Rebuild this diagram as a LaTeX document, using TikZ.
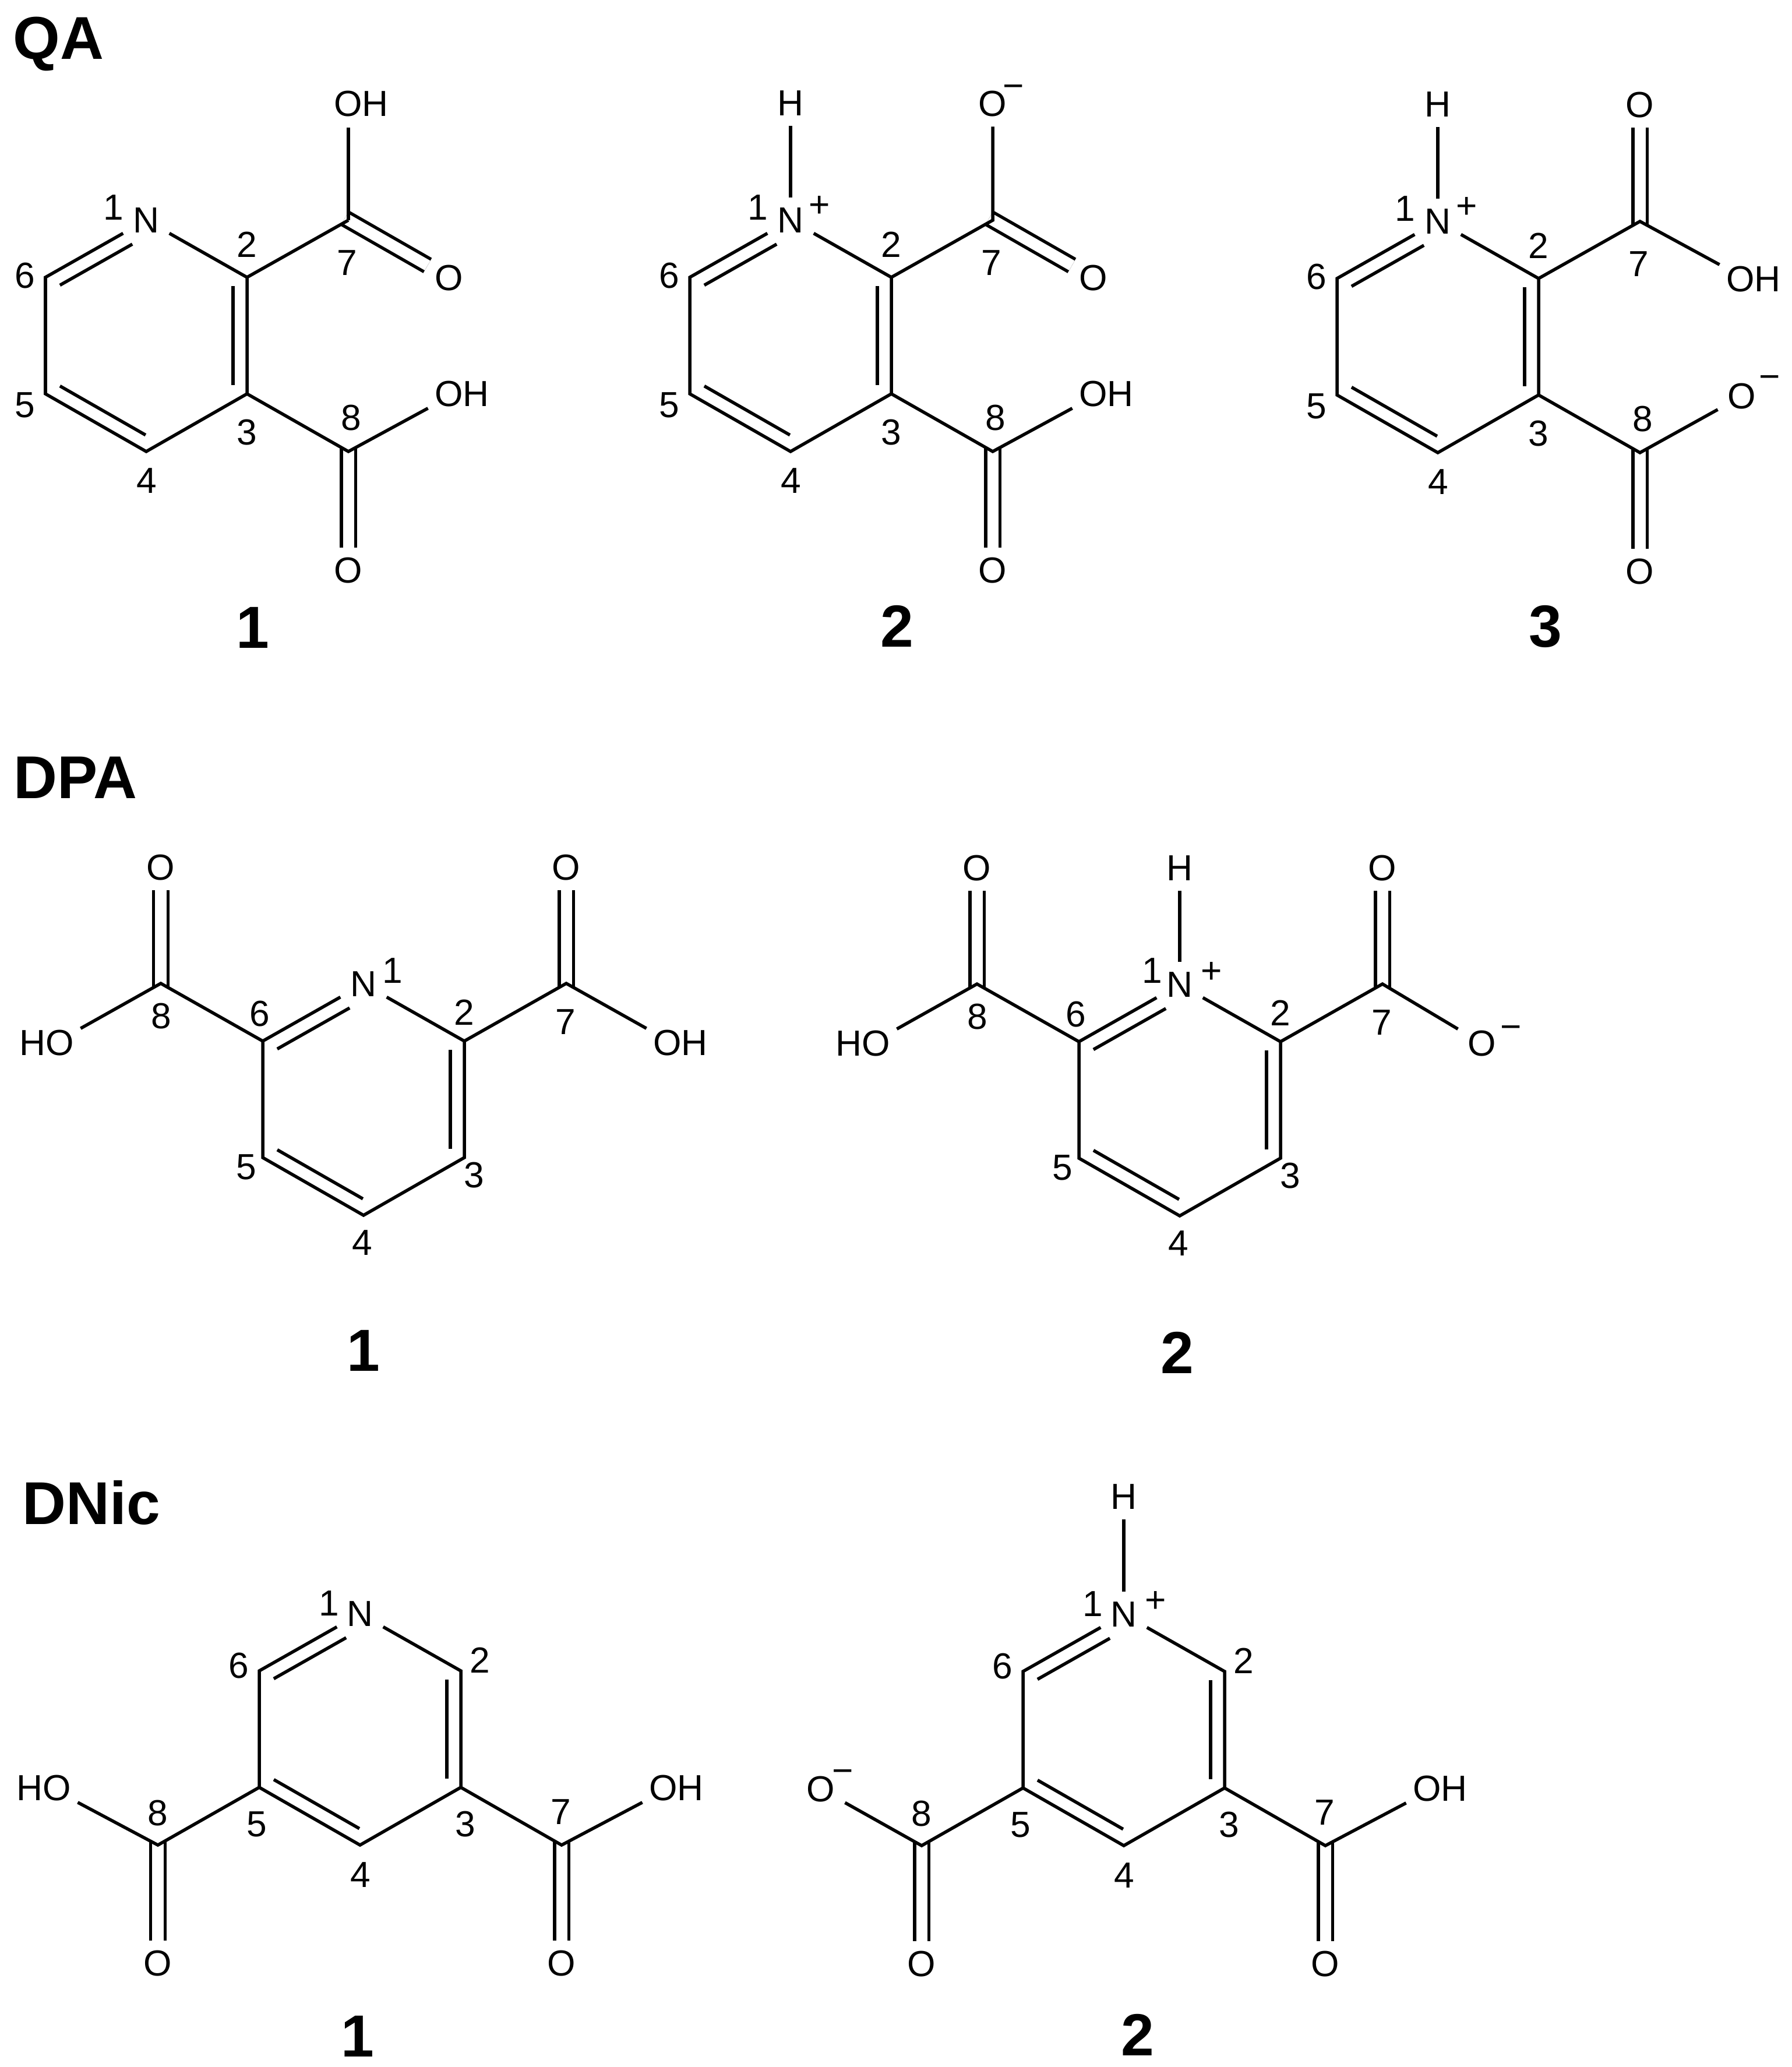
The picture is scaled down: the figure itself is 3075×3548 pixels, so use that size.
\documentclass[tikz,border=0pt]{standalone}
\usepackage{fontspec}
\setmainfont{Liberation Sans}
\usetikzlibrary{calc}
\tikzset{
    every path/.style={line width=.055cm},
    atom/.style={inner sep=.145cm,font=\fontsize{17.7}{20}\selectfont},
    oh/.style={inner xsep=.09cm,inner ysep=0pt,font=\fontsize{17.7}{20}\selectfont},
    num/.style={inner sep=0pt,font=\fontsize{17.7}{20}\selectfont},
    pls/.style={inner sep=0pt,yshift=-.04cm,font=\fontsize{17.7}{20}\selectfont},
    mns/.style={inner sep=0pt,yshift=-.19cm,font=\fontsize{17.7}{20}\selectfont},
    title/.style={inner sep=0pt,anchor=base west,font=\fontsize{29.5}{32}\selectfont\bfseries},
    tag/.style={inner sep=0pt,font=\fontsize{29}{32}\selectfont\bfseries},
    dbl/.style={double,double distance=.19cm,shorten <=-.07cm},
    dblo/.style={dbl,shorten >=-.05cm},
}
% second stroke of a ring bond, on the inner side
\newcommand{\ringdbl}[3][.15cm]{
    \draw[shorten <=.15cm,shorten >=#1] ($(#2)!.24cm!-90:(#3)$) -- ($(#3)!.24cm!90:(#2)$);
}
% pyridine ring round the origin of the scope
\newcommand{\pyring}{
    \coordinate (c2) at (173,-100);
    \coordinate (c3) at (173,100);
    \coordinate (c4) at (0,199);
    \coordinate (c5) at (-173,100);
    \coordinate (c6) at (-173,-100);
    \node[atom] (n1) at (0,-198) {N};
    \draw (n1) -- (c2) -- (c3) -- (c4) -- (c5) -- (c6) -- (n1);
    \ringdbl{c2}{c3}
    \ringdbl{c4}{c5}
    \ringdbl[.41cm]{c6}{n1}
}
\newcommand{\qalabels}{
    \foreach \x/\y/\n in {-56/-220/1,173/-156/2,173/166/3,1/249/4,-208/119/5,-208/-103/6,345/-125/7,352/141/8}{
        \node[num] (l\n) at (\x,\y) {\n};
    }
}
\newcommand{\dpalabels}{
    \foreach \x/\y/\n in {173/-149/2,190/130/3,-2/246/4,-201/116/5,-178/-147/6,347/-133/7,-347/-143/8}{
        \node[num] (l\n) at (\x,\y) {\n};
    }
}
\newcommand{\dniclabels}{
    \foreach \x/\y/\n in {-53/-216/1,206/-118/2,181/163/3,1/250/4,-177/163/5,-208/-109/6,345/142/7,-347/144/8}{
        \node[num] (l\n) at (\x,\y) {\n};
    }
}
\begin{document}
\begin{tikzpicture}[x=.01cm,y=-.01cm]
\useasboundingbox (0,0) rectangle (3075,3548);
\node[title] (qa) at (20,101) {QA};
\node[title] (dpa) at (21,1370) {DPA};
\node[title] (dnic) at (36,2616) {DNic};
\foreach \x/\y/\n/\m in {434/1077/1/a,1540/1075/2/b,2653/1075/3/c,624/2318/1/d,2021/2322/2/e,614/3495/1/f,1953/3493/2/g}{
    \node[tag] (tag\m) at (\x,\y) {\n};
}

% QA 1
\begin{scope}[shift={(251,576)},name prefix=qaa-]
\pyring
\coordinate (c7) at (347,-198);
\coordinate (c8) at (347,199);
\node[oh] (oh7) at (369,-398) {OH};
\node[atom] (o7) at (520,-99) {O};
\node[oh] (oh8) at (542,100) {OH};
\node[atom] (o8) at (347,403) {O};
\draw[dblo] (c7) -- (o7);
\draw[dbl] (c8) -- (o8);
\draw (c2) -- (c7);
\draw[shorten >=.16cm] (c7) -- (c7 |- oh7.south);
\draw (c3) -- (c8) -- (oh8.south west);
\qalabels
\end{scope}

% QA 2
\begin{scope}[shift={(1357,576)},name prefix=qab-]
\pyring
\coordinate (c7) at (347,-198);
\coordinate (c8) at (347,199);
\node[atom] (h1) at (0,-399) {H};
\node[pls] (plus) at (50,-225) {+};
\node[atom] (om7) at (347,-398) {O};
\node[mns] (minus) at (383,-438) {−};
\node[atom] (o7) at (520,-99) {O};
\node[oh] (oh8) at (542,100) {OH};
\node[atom] (o8) at (347,403) {O};
\draw[dblo] (c7) -- (o7);
\draw[dbl] (c8) -- (o8);
\draw (n1) -- (h1);
\draw (c2) -- (c7) -- (om7);
\draw (c3) -- (c8) -- (oh8.south west);
\qalabels
\end{scope}

% QA 3
\begin{scope}[shift={(2468,578)},name prefix=qac-]
\pyring
\coordinate (c7) at (347,-198);
\coordinate (c8) at (347,199);
\node[atom] (h1) at (0,-399) {H};
\node[pls] (plus) at (50,-225) {+};
\node[atom] (o7) at (347,-398) {O};
\node[oh] (oh7) at (542,-99) {OH};
\node[atom] (om8) at (522,102) {O};
\node[mns] (minus) at (570,59) {−};
\node[atom] (o8) at (347,403) {O};
\draw[dbl] (c7) -- (o7);
\draw[dbl] (c8) -- (o8);
\draw (n1) -- (h1);
\draw (c2) -- (c7) -- (oh7.north west);
\draw (c3) -- (c8) -- (om8);
\qalabels
\end{scope}

% DPA 1
\begin{scope}[shift={(624,1887)},name prefix=dpaa-]
\pyring
\coordinate (c7) at (348,-199);
\coordinate (c8) at (-348,-199);
\node[atom] (o7) at (348,-398) {O};
\node[atom] (o8) at (-348,-398) {O};
\node[oh] (oh7) at (544,-97) {OH};
\node[oh] (oh8) at (-544,-97) {HO};
\draw[dbl] (c7) -- (o7);
\draw[dbl] (c8) -- (o8);
\draw (c2) -- (c7) -- (oh7.north west);
\draw (c6) -- (c8) -- (oh8.north east);
\dpalabels
\node[num] (l1) at (50,-221) {1};
\end{scope}

% DPA 2
\begin{scope}[shift={(2025,1888)},name prefix=dpab-]
\pyring
\coordinate (c7) at (348,-199);
\coordinate (c8) at (-348,-199);
\node[atom] (h1) at (0,-398) {H};
\node[pls] (plus) at (55,-222) {+};
\node[atom] (o7) at (348,-398) {O};
\node[atom] (o8) at (-348,-398) {O};
\node[atom] (om7) at (519,-97) {O};
\node[mns] (minus) at (569,-135) {−};
\node[oh] (oh8) at (-544,-97) {HO};
\draw[dbl] (c7) -- (o7);
\draw[dbl] (c8) -- (o8);
\draw (n1) -- (h1);
\draw (c2) -- (c7) -- (om7);
\draw (c6) -- (c8) -- (oh8.north east);
\dpalabels
\node[num] (l1) at (-47,-222) {1};
\end{scope}

% DNic 1
\begin{scope}[shift={(618,2968)},name prefix=dnica-]
\pyring
\coordinate (c7) at (346,199);
\coordinate (c8) at (-347,199);
\node[atom] (o7) at (346,402) {O};
\node[atom] (o8) at (-347,402) {O};
\node[oh] (oh7) at (543,101) {OH};
\node[oh] (oh8) at (-543,101) {HO};
\draw[dbl] (c7) -- (o7);
\draw[dbl] (c8) -- (o8);
\draw (c3) -- (c7) -- (oh7.south west);
\draw (c5) -- (c8) -- (oh8.south east);
\dniclabels
\end{scope}

% DNic 2
\begin{scope}[shift={(1929,2969)},name prefix=dnicb-]
\pyring
\coordinate (c7) at (346,199);
\coordinate (c8) at (-347,199);
\node[atom] (h1) at (0,-400) {H};
\node[pls] (plus) at (55,-223) {+};
\node[atom] (o7) at (346,402) {O};
\node[atom] (o8) at (-347,402) {O};
\node[oh] (oh7) at (543,101) {OH};
\node[atom] (om8) at (-520,102) {O};
\node[mns] (minus) at (-482,61) {−};
\draw[dbl] (c7) -- (o7);
\draw[dbl] (c8) -- (o8);
\draw (n1) -- (h1);
\draw (c3) -- (c7) -- (oh7.south west);
\draw (c5) -- (c8) -- (om8);
\dniclabels
\end{scope}
\end{tikzpicture}
\end{document}
